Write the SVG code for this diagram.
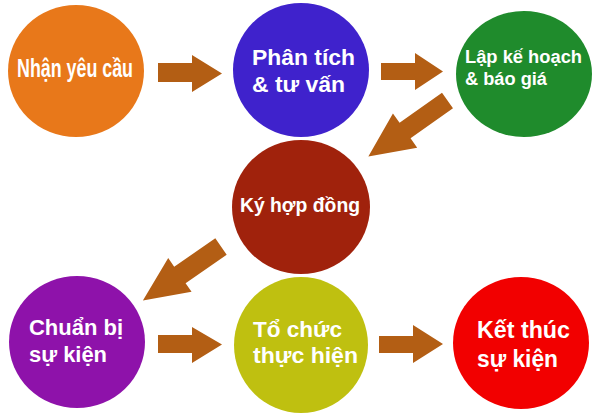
<svg xmlns="http://www.w3.org/2000/svg" width="599" height="415" viewBox="0 0 599 415">
<style>
.t{font-family:"Liberation Sans",Arial,sans-serif;font-weight:bold;fill:#ffffff}
.arr{fill:#B35E14}
</style>
<rect width="599" height="415" fill="#ffffff"/>
<g id="connectors">
<polygon class="arr" points="158,63 192,63 192,55 222,73.5 192,92 192,82 158,82"/>
<polygon class="arr" points="381,63 415,63 415,53 443,71.5 415,90 415,80 381,80"/>
<polygon class="arr" transform="translate(447.5,100.5) rotate(144.7)" points="0,-9.5 52,-9.5 52,-21 97,0 52,21 52,9.5 0,9.5"/>
<polygon class="arr" transform="translate(221,246.5) rotate(145.3)" points="0,-10 50,-10 50,-20.5 95,0 50,20.5 50,10 0,10"/>
<polygon class="arr" points="158,335 192,335 192,327 222,344.5 192,363 192,353 158,353"/>
<polygon class="arr" points="379,336 413,336 413,325 443,344 413,363 413,353 379,353"/>
</g>
<g id="n1">
<ellipse cx="76" cy="71" rx="68" ry="66" fill="#E8781A"/>
<text class="t" x="17" y="77" font-size="25" textLength="116" lengthAdjust="spacingAndGlyphs">Nhận yêu cầu</text>
</g>
<g id="n2">
<ellipse cx="301" cy="70" rx="68" ry="67" fill="#3F22CC"/>
<text class="t" x="252" y="65" font-size="22" textLength="103" lengthAdjust="spacingAndGlyphs">Phân tích</text>
<text class="t" x="252" y="92" font-size="22" textLength="93" lengthAdjust="spacingAndGlyphs">&amp; tư vấn</text>
</g>
<g id="n3">
<ellipse cx="524" cy="74" rx="68" ry="63" fill="#1F8B2C"/>
<text class="t" x="465" y="63" font-size="18" textLength="117" lengthAdjust="spacingAndGlyphs">Lập kế hoạch</text>
<text class="t" x="465" y="85" font-size="18" textLength="82" lengthAdjust="spacingAndGlyphs">&amp; báo giá</text>
</g>
<g id="n4">
<ellipse cx="301" cy="207" rx="69" ry="67" fill="#A0220C"/>
<text class="t" x="240" y="212" font-size="20" textLength="120" lengthAdjust="spacingAndGlyphs">Ký hợp đồng</text>
</g>
<g id="n5">
<ellipse cx="77" cy="342" rx="68" ry="66" fill="#8E12AA"/>
<text class="t" x="29" y="335" font-size="22" textLength="94" lengthAdjust="spacingAndGlyphs">Chuẩn bị</text>
<text class="t" x="29" y="362" font-size="22" textLength="78" lengthAdjust="spacingAndGlyphs">sự kiện</text>
</g>
<g id="n6">
<ellipse cx="301" cy="345" rx="67" ry="68" fill="#BFC010"/>
<text class="t" x="253" y="337" font-size="22" textLength="89" lengthAdjust="spacingAndGlyphs">Tổ chức</text>
<text class="t" x="253" y="363" font-size="22" textLength="105" lengthAdjust="spacingAndGlyphs">thực hiện</text>
</g>
<g id="n7">
<ellipse cx="521" cy="343" rx="68" ry="66" fill="#F20000"/>
<text class="t" x="477" y="338" font-size="23" textLength="93" lengthAdjust="spacingAndGlyphs">Kết thúc</text>
<text class="t" x="477" y="367" font-size="23" textLength="81" lengthAdjust="spacingAndGlyphs">sự kiện</text>
</g>
</svg>
